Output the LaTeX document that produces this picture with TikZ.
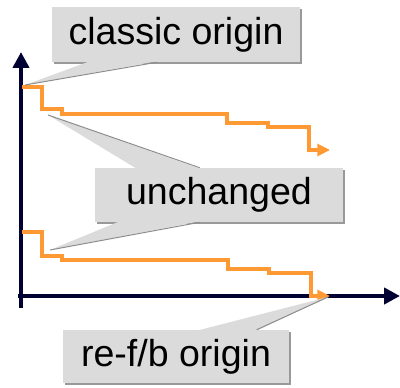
\documentclass[tikz,border=0pt]{standalone}
\usepackage{fontspec}
\setmainfont{Liberation Sans}
\usetikzlibrary{arrows.meta,calc,shadows}
\definecolor{navy}{rgb}{0.0,0.0,0.2}
\definecolor{trace}{rgb}{1.0,0.6,0.2}
\definecolor{tagfill}{gray}{0.86}

\begin{document}
\begin{tikzpicture}[x=0.025cm,y=-0.025cm]
  \tikzset{axis/.style={draw=navy,line width=3.5pt,-{Triangle[length=11.3pt,width=11.3pt]}}}
  \tikzset{trace/.style={draw=trace,line width=2.3pt,-{Triangle[length=9pt,width=8.5pt]}}}
  \tikzset{tag/.style={fill=tagfill,inner sep=0pt,font=\fontsize{26.7}{30}\selectfont,
      drop shadow={shadow xshift=1.4pt,shadow yshift=-1.4pt,opacity=1,fill=black!40}}}
  \tikzset{pointer/.style={fill=tagfill}}
  \tikzset{pointeredge/.style={draw=black!45,line width=0.7pt}}
  \useasboundingbox (0,0) rectangle (400,387);
  % axes
  \draw[axis] (21,308) -- (21,52);
  \draw[axis] (18,296) -- (400,296);
  % the two step curves
  \coordinate (classicStart) at (22,87);
  \coordinate (refbEnd) at (330,296);
  \draw[trace] (classicStart) -| (42,109) -| (62,114) -| (227,123) -| (268,127) -| (309,150) -- (330,150);
  \draw[trace] (22,232) -| (42,256) -| (62,260) -| (228,269) -| (269,273) -| (311,296) -- (refbEnd);
  % labels
  \node[tag,minimum width=6.2cm,minimum height=1.375cm] (classic) at (176,34.5) {classic origin};
  \node[tag,minimum width=6.2cm,minimum height=1.35cm] (unchanged) at (219,195) {unchanged};
  \node[tag,minimum width=5.65cm,minimum height=1.325cm] (refb) at (176,356.5) {re-f/b origin};
  % pointers
  \coordinate (topTip) at (48,115);
  \coordinate (bottomTip) at (50,250);
  \fill[pointer] ($(classic.south west)+(38,-1)$) -- (25,85) -- ($(classic.south west)+(105,-1)$) -- cycle;
  \draw[pointeredge] (25,85) -- ($(classic.south west)+(105,0)$);
  \fill[pointer] ($(unchanged.north west)+(42,1)$) -- (topTip) -- ($(unchanged.north west)+(105,1)$) -- cycle;
  \draw[pointeredge] (topTip) -- ($(unchanged.north west)+(105,0)$);
  \fill[pointer] ($(unchanged.south west)+(25,-1)$) -- (bottomTip) -- ($(unchanged.south west)+(105,-1)$) -- cycle;
  \draw[pointeredge] (bottomTip) -- ($(unchanged.south west)+(105,0)$);
  \fill[pointer] ($(refb.north west)+(134,1)$) -- (328,297) -- ($(refb.north west)+(194,1)$) -- cycle;
  \draw[pointeredge] (328,297) -- ($(refb.north west)+(194,0)$);
\end{tikzpicture}
\end{document}
